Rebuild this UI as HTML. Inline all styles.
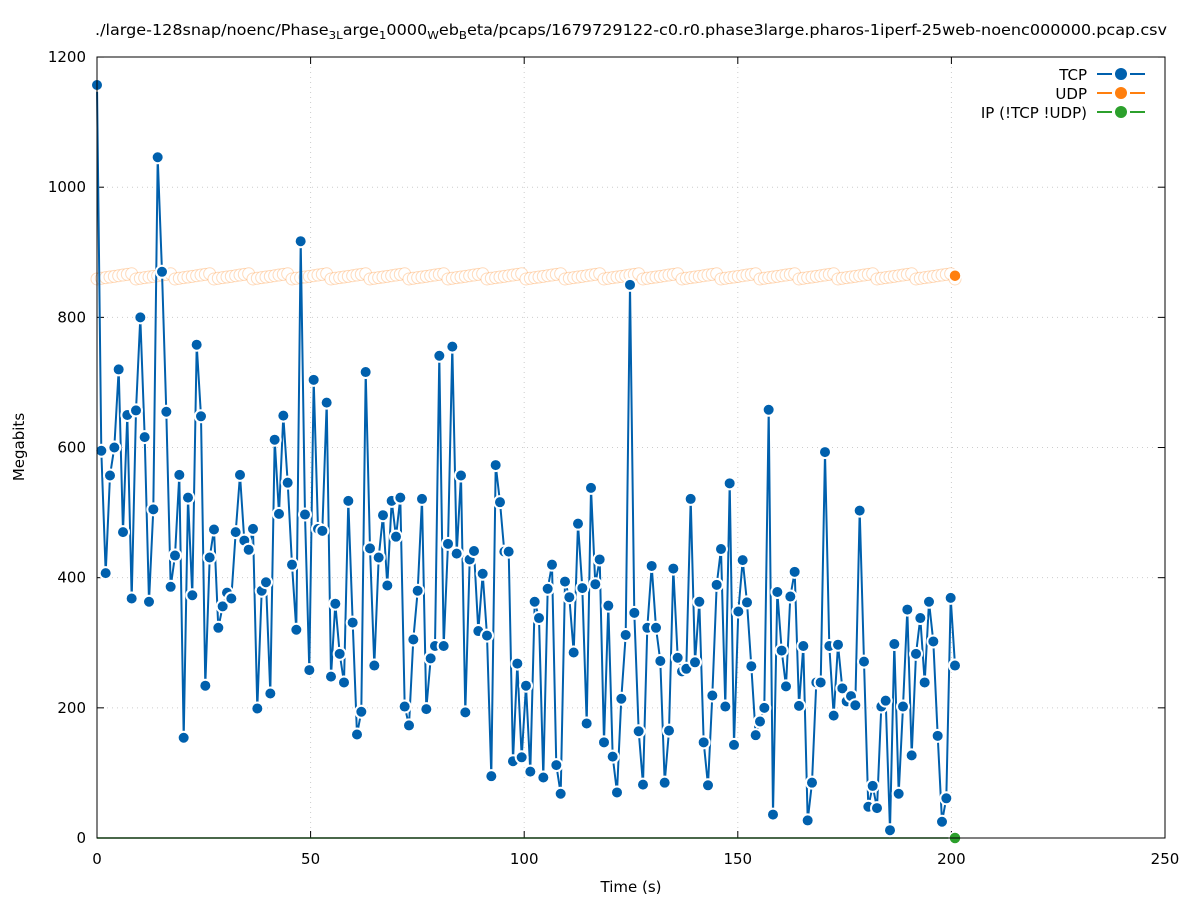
<!DOCTYPE html>
<html><head><meta charset="utf-8"><style>body{margin:0;background:#fff}svg{display:block;font-family:"DejaVu Sans","Liberation Sans",sans-serif}</style></head>
<body>
<svg id="s" width="1197" height="900" xmlns="http://www.w3.org/2000/svg">
<rect width="1197" height="900" fill="#fff"/>
<text x="95" y="35" font-size="15" textLength="1072" lengthAdjust="spacingAndGlyphs">./large-128snap/noenc/Phase<tspan dy="4" font-size="11">3L</tspan><tspan dy="-4">arge</tspan><tspan dy="4" font-size="11">1</tspan><tspan dy="-4">0000</tspan><tspan dy="4" font-size="11">W</tspan><tspan dy="-4">eb</tspan><tspan dy="4" font-size="11">B</tspan><tspan dy="-4">eta/pcaps/1679729122-c0.r0.phase3large.pharos-1iperf-25web-noenc000000.pcap.csv</tspan></text>
<g id="grid" stroke="#ccc" stroke-dasharray="1,4" stroke-width="1"></g>
<g id="ax" font-size="15"></g>
<text x="631" y="892" font-size="15" text-anchor="middle">Time (s)</text>
<text transform="translate(24,447) rotate(-90)" font-size="15" text-anchor="middle">Megabits</text>
<g id="data"></g>
<g font-size="15" text-anchor="end">
<text x="1087" y="80">TCP</text><text x="1087" y="99">UDP</text><text x="1087" y="118">IP (!TCP  !UDP)</text>
<g stroke-width="2"><line x1="1097" x2="1145" y1="74" y2="74" stroke="#0060ad"/><line x1="1097" x2="1145" y1="93" y2="93" stroke="#ff7f0e"/><line x1="1097" x2="1145" y1="112" y2="112" stroke="#2ca02c"/></g>
<g stroke="#fff" stroke-width="3"><line x1="1112" x2="1130" y1="74" y2="74"/><line x1="1112" x2="1130" y1="93" y2="93"/><line x1="1112" x2="1130" y1="112" y2="112"/></g>
<circle cx="1121" cy="74" r="6" fill="#0060ad"/><circle cx="1121" cy="93" r="6" fill="#ff7f0e"/><circle cx="1121" cy="112" r="6" fill="#2ca02c"/>
</g>
<rect x="97" y="57" width="1068" height="781" fill="none" stroke="#000" stroke-width="1"/>
</svg>
<script>
const NS="http://www.w3.org/2000/svg";
function el(p,t,a,txt){const e=document.createElementNS(NS,t);for(const k in a)e.setAttribute(k,a[k]);if(txt!=null)e.textContent=txt;p.appendChild(e);return e;}
const X=t=>97+t*4.272, Y=v=>838-v*0.6508;
const g=document.getElementById('grid'),ax=document.getElementById('ax'),d=document.getElementById('data');
for(let v=0;v<=1200;v+=200){const y=Y(v);if(v>0&&v<1200)el(g,'line',{x1:97,x2:1165,y1:y,y2:y});
 el(ax,'line',{x1:97,x2:104,y1:y,y2:y,stroke:'#000'});el(ax,'line',{x1:1158,x2:1165,y1:y,y2:y,stroke:'#000'});
 el(ax,'text',{x:86,y:y+5,'text-anchor':'end'},v);}
for(let t=0;t<=250;t+=50){const x=X(t);if(t>0&&t<250)el(g,'line',{x1:x,x2:x,y1:57,y2:838});
 el(ax,'line',{x1:x,x2:x,y1:838,y2:831,stroke:'#000'});el(ax,'line',{x1:x,x2:x,y1:57,y2:64,stroke:'#000'});
 el(ax,'text',{x:x,y:864,'text-anchor':'middle'},t);}
const tcp=[1157,595,407,557,600,720,470,650,368,657,800,616,363,505,1046,870,655,386,434,558,154,523,373,758,648,234,431,474,323,356,377,368,470,558,457,443,475,199,380,393,222,612,498,649,546,420,320,917,497,258,704,475,472,669,248,360,283,239,518,331,159,194,716,445,265,431,496,388,518,463,523,202,173,305,380,521,198,276,295,741,295,452,755,437,557,193,428,441,318,406,311,95,573,516,440,440,118,268,124,234,102,363,338,93,383,420,112,68,394,370,285,483,384,176,538,390,428,147,357,125,70,214,312,850,346,164,82,323,418,323,272,85,165,414,277,256,260,521,270,363,147,81,219,389,444,202,545,143,348,427,362,264,158,179,200,658,36,378,288,233,371,409,203,295,27,85,239,239,593,295,188,297,230,210,218,204,503,271,48,80,46,202,211,12,298,68,202,351,127,283,338,239,363,302,157,25,61,369,265];
const n=tcp.length,step=(955-97)/(n-1);
el(d,'line',{x1:97,x2:955,y1:838,y2:838,stroke:'#2ca02c','stroke-width':1.5});
const udp=[];for(let i=0;i<n;i++){udp.push(862+((i*37)%9)-3);}
for(let i=0;i<n;i++)el(d,'circle',{cx:97+i*step,cy:Y(udp[i]),r:6,fill:'#fff',stroke:'#ff7f0e','stroke-opacity':0.28,'stroke-width':1});
el(d,'circle',{cx:955,cy:Y(864),r:6,fill:'#ff7f0e',stroke:'#fff','stroke-width':1.5});
let p="";for(let i=0;i<n;i++)p+=(i?'L':'M')+(97+i*step).toFixed(1)+','+Y(tcp[i]).toFixed(1);
el(d,'path',{d:p,fill:'none',stroke:'#0060ad','stroke-width':2});
for(let i=0;i<n;i++)el(d,'circle',{cx:97+i*step,cy:Y(tcp[i]),r:6,fill:'#0060ad',stroke:'#fff','stroke-width':2});
el(d,'circle',{cx:955,cy:838,r:6,fill:'#2ca02c',stroke:'#fff','stroke-width':1.5});
</script>
</body></html>
